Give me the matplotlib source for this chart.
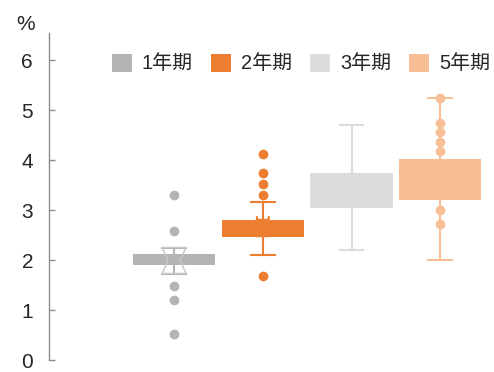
import matplotlib
matplotlib.use('Agg')
import matplotlib.pyplot as plt
from matplotlib.patches import Patch

plt.rcParams['font.family'] = ['Liberation Sans', 'Noto Sans CJK SC', 'DejaVu Sans']

# box statistics (%)
labels = ['1年期', '2年期', '3年期', '5年期']
q1 = [1.90, 2.47, 3.05, 3.20]
med = [2.00, 2.72, 3.40, 3.60]
q3 = [2.12, 2.81, 3.75, 4.03]
whislo = [1.73, 2.10, 2.20, 2.00]
whishi = [2.25, 3.17, 4.69, 5.25]
fliers = [
    [3.30, 2.59, 1.48, 1.20, 0.52],
    [4.12, 3.75, 3.53, 3.31, 1.68],
    [],
    [5.25, 4.75, 4.56, 4.37, 4.18, 3.00, 2.73],
]
# notch (confidence interval) for the first two boxes
ci_lo = [1.73, 2.60]
ci_hi = [2.25, 2.87]

colors = ['#b4b4b4', '#ed7d31', '#dcdcdc', '#f8bf96']
notch_colors = ['#c8c8c8', '#ed7d31']
positions = [1, 2, 3, 4]

fig = plt.figure(figsize=(4.94, 3.72), dpi=100)
ax = fig.add_axes([49 / 494, 1 - 360 / 372, 440 / 494, 327 / 372])

stats = []
for i in range(len(labels)):
    stats.append(dict(q1=q1[i], med=med[i], q3=q3[i], whislo=whislo[i],
                      whishi=whishi[i], fliers=fliers[i], label=labels[i]))

bp = ax.bxp(stats, positions=positions, widths=0.925, capwidths=0.27,
            patch_artist=True, showfliers=True,
            medianprops=dict(linewidth=0),
            boxprops=dict(linewidth=0),
            whiskerprops=dict(linewidth=1.5),
            capprops=dict(linewidth=1.5),
            flierprops=dict(marker='o', markersize=7, markeredgewidth=0))

for i, c in enumerate(colors):
    bp['boxes'][i].set_facecolor(c)
    bp['boxes'][i].set_edgecolor(c)
    bp['boxes'][i].set_zorder(2)
    for w in bp['whiskers'][2 * i:2 * i + 2]:
        w.set_color(c)
        w.set_zorder(1)
    for cap in bp['caps'][2 * i:2 * i + 2]:
        cap.set_color(c)
    bp['fliers'][i].set_markerfacecolor(c)
    bp['fliers'][i].set_zorder(4)

# notch marks on top of boxes 1 and 2
nstats = [
    dict(q1=ci_lo[0], med=med[0], q3=ci_hi[0], whislo=med[0], whishi=med[0],
         cilo=ci_lo[0], cihi=ci_hi[0], fliers=[]),
    dict(q1=q1[1], med=med[1], q3=q3[1], whislo=med[1], whishi=med[1],
         cilo=ci_lo[1], cihi=ci_hi[1], fliers=[]),
]
nb = ax.bxp(nstats, positions=positions[:2], widths=[0.27, 0.14],
            shownotches=True, showcaps=False, showfliers=False,
            medianprops=dict(linewidth=0),
            whiskerprops=dict(linewidth=0))
for i in range(2):
    nb['boxes'][i].set_color(notch_colors[i])
    nb['boxes'][i].set_linewidth(1.0)
    nb['boxes'][i].set_zorder(3)

ax.set_xlim(-0.41, 4.55)
ax.set_ylim(0, 6.54)
ax.set_yticks([0, 1, 2, 3, 4, 5, 6])
ax.set_xticks([])
for s in ['top', 'right', 'bottom']:
    ax.spines[s].set_visible(False)
ax.spines['left'].set_color('#8c8c8c')
ax.spines['left'].set_linewidth(1)
ax.tick_params(axis='y', direction='in', length=4.3, width=1, color='#8c8c8c',
               labelsize=15, labelcolor='#262626', pad=11.5)

fig.text(26 / 494, 1 - 25 / 372, '%', ha='center', va='center',
         fontsize=15, color='#262626')

handles = [Patch(facecolor=c, edgecolor='none') for c in colors]
fig.legend(handles, labels, loc='center left',
           bbox_to_anchor=(111.7 / 494, 1 - 63.5 / 372), ncol=4,
           frameon=False, fontsize=14.4, handlelength=1.0, handleheight=1.0,
           handletextpad=0.5, columnspacing=0.9, borderpad=0, borderaxespad=0,
           labelcolor='#262626')

fig.savefig('out.png', dpi=100)
